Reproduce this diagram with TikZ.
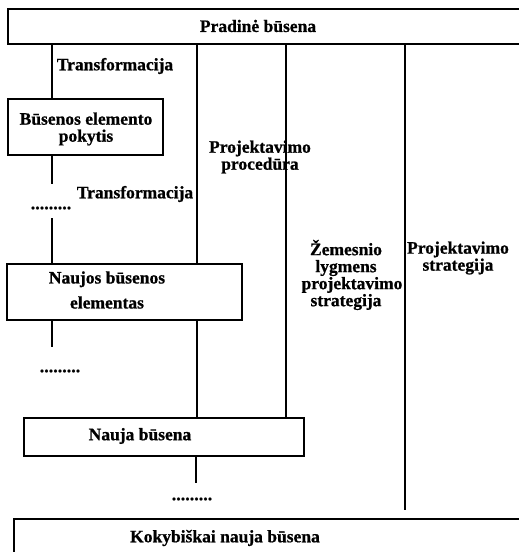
\documentclass[tikz,border=0pt]{standalone}
\usepackage{fontspec}
\setmainfont{Liberation Serif}[BoldFeatures={FakeBold=0.8}]
\begin{document}
\begin{tikzpicture}[x=1pt,y=-1pt,
  box/.style={draw,line width=1.5pt,rectangle,inner sep=0pt,anchor=north west},
  lbl/.style={font=\fontsize{17.5}{17}\selectfont\bfseries,inner sep=0pt,align=center},
  dotsl/.style={font=\fontsize{18}{18}\selectfont\bfseries,inner sep=0pt},
  conn/.style={line width=1.5pt}]
\useasboundingbox (0,0) rectangle (519,552);
% boxes
\node[box,minimum width=530pt,minimum height=35pt] (top) at (7,8) {};
\node[box,minimum width=155pt,minimum height=56pt] (b1) at (7,98) {};
\node[box,minimum width=235pt,minimum height=56pt] (b2) at (6,263) {};
\node[box,minimum width=280pt,minimum height=38pt] (b3) at (23,417) {};
\node[box,minimum width=530pt,minimum height=60pt] (bot) at (13,518) {};
% texts
\node[lbl] (ttop) at (258,26) {Pradinė būsena};
\node[lbl] (tb1) at (86,129) {Būsenos elemento\\pokytis};
\node[lbl] (tb2) at (107,290) {Naujos būsenos\\[8pt]elementas};
\node[lbl] (tb3) at (140,436) {Nauja būsena};
\node[lbl] (tbot) at (225,538) {Kokybiškai nauja būsena};
\node[lbl] (tr1) at (115,66) {Transformacija};
\node[lbl] (tr2) at (135,194) {Transformacija};
\node[lbl] (pp) at (260,157) {Projektavimo\\procedūra};
\node[lbl] (zl) at (346,275) {Žemesnio\\lygmens\\\hspace*{12pt}projektavimo\\strategija};
\node[lbl] (ps) at (458,258) {Projektavimo\\strategija};
\node[dotsl] (d1) at (51,208) {.........};
\node[dotsl] (d2) at (60,371) {.........};
\node[dotsl] (d3) at (192,499) {.........};
% column coordinates
\coordinate (xa) at (52,0);
\coordinate (xb) at (197,0);
\coordinate (xc) at (286,0);
\coordinate (xd) at (405,0);
\coordinate (e1) at (52,184);
\coordinate (s1) at (52,218);
\coordinate (e2) at (52,347);
\coordinate (e3) at (196,483);
\coordinate (e4) at (405,510);
% connectors
\draw[conn] (xa |- top.south) -- (xa |- b1.north);
\draw[conn] (xa |- b1.south) -- (e1);
\draw[conn] (s1) -- (xa |- b2.north);
\draw[conn] (xa |- b2.south) -- (e2);
\draw[conn] (xb |- top.south) -- (xb |- b2.north);
\draw[conn] (xb |- b2.south) -- (xb |- b3.north);
\draw[conn] (e3 |- b3.south) -- (e3);
\draw[conn] (xc |- top.south) -- (xc |- b3.north);
\draw[conn] (xd |- top.south) -- (e4);
\end{tikzpicture}
\end{document}
